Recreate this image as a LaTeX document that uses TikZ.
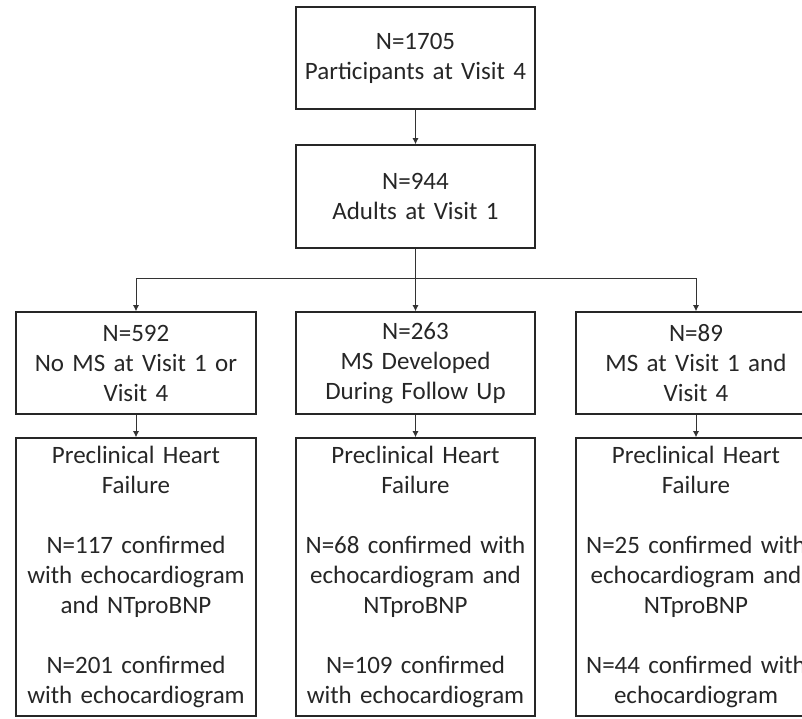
\documentclass[tikz,border=0pt]{standalone}
\usepackage{fontspec}
\setmainfont{Carlito}
\usetikzlibrary{arrows.meta}
\begin{document}
\begin{tikzpicture}[x=1pt,y=-1pt,
  box/.style={draw=black!85,line width=1.6pt,text=black!85,
    font=\fontsize{25}{30}\selectfont,align=center,inner sep=0pt,
    minimum width=239pt,text width=236pt},
  conn/.style={draw=black!80,line width=0.9pt},
  arr/.style={conn,-{Latex[length=6pt,width=6pt]}}]
\useasboundingbox (0,0) rectangle (802,718);
\clip (0,0) rectangle (802,718);
\node[box,minimum height=102pt] (b1) at (415.5,58) {N=1705\\Participants at Visit 4};
\node[box,minimum height=103pt] (b2) at (415.5,196.5) {N=944\\Adults at Visit 1};
\node[box,minimum height=102pt,minimum width=240pt] (m1) at (136,363) {N=592\\No MS at Visit 1 or\\Visit 4};
\node[box,minimum height=102pt] (m2) at (415.5,363) {N=263\\MS Developed\\During Follow Up};
\node[box,minimum height=102pt,minimum width=240pt] (m3) at (696,363) {N=89\\MS at Visit 1 and\\Visit 4};
\node[box,minimum height=278pt,minimum width=240pt] (p1) at (136,577) {Preclinical Heart\\Failure\\[30pt]N=117 confirmed\\with echocardiogram\\and NTproBNP\\[30pt]N=201 confirmed\\with echocardiogram};
\node[box,minimum height=278pt] (p2) at (415.5,577) {Preclinical Heart\\Failure\\[30pt]N=68 confirmed with\\echocardiogram and\\NTproBNP\\[30pt]N=109 confirmed\\with echocardiogram};
\node[box,minimum height=278pt,minimum width=240pt] (p3) at (696,577) {Preclinical Heart\\Failure\\[30pt]N=25 confirmed with\\echocardiogram and\\NTproBNP\\[30pt]N=44 confirmed with\\echocardiogram};
\coordinate (bus) at (415.5,278);
\draw[arr] (b1.south) -- (b2.north);
\draw[arr] (b2.south) -- (m2.north);
\draw[conn] (bus -| m1) -- (bus -| m3);
\draw[arr] (bus -| m1) -- (m1.north);
\draw[arr] (bus -| m3) -- (m3.north);
\draw[arr] (m1.south) -- (p1.north);
\draw[arr] (m2.south) -- (p2.north);
\draw[arr] (m3.south) -- (p3.north);
\end{tikzpicture}
\end{document}
